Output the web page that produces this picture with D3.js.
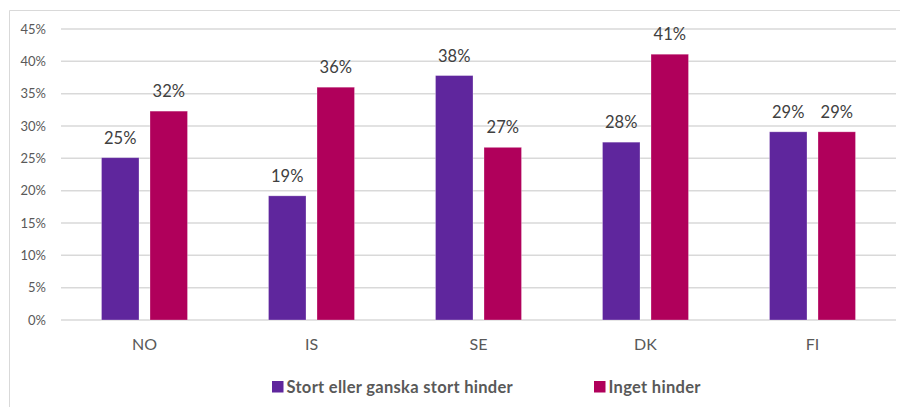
<!DOCTYPE html>
<html>
<head>
<meta charset="utf-8">
<script src="https://cdn.jsdelivr.net/npm/d3@7"></script>
<style>
  html, body { margin: 0; padding: 0; background: #fff; }
  svg { display: block; font-family: Lato, "Open Sans", sans-serif; }
</style>
</head>
<body>
<svg id="chart" width="900" height="407"></svg>
<script>
const categories = ["NO", "IS", "SE", "DK", "FI"];
const seriesNames = ["Stort eller ganska stort hinder", "Inget hinder"];
const storHinder = [25.1, 19.2, 37.8, 27.5, 29.1];
const ingetHinder = [32.3, 36.0, 26.7, 41.1, 29.1];
const yTicks = [0, 5, 10, 15, 20, 25, 30, 35, 40, 45];
const colors = ["#5F269D", "#B0005B"];

const svg = d3.select("#chart");

// outer border (chart area box)
svg.append("path")
  .attr("d", "M9.5,407 L9.5,10.5 L900,10.5")
  .attr("fill", "none")
  .attr("stroke", "#d9d9d9")
  .attr("stroke-width", 1);

const plotL = 61, plotR = 896, plotT = 29, plotB = 320;
const y = d3.scaleLinear().domain([0, 45]).range([plotB, plotT]);
const x0 = d3.scaleBand().domain(categories).range([plotL, plotR])
  .paddingInner(0.485).paddingOuter(0.2425);
const x1 = d3.scaleBand().domain(seriesNames).range([0, x0.bandwidth()])
  .paddingInner(0.227).paddingOuter(0);

// gridlines
svg.append("g").selectAll("line").data(yTicks).join("line")
  .attr("x1", plotL).attr("x2", plotR)
  .attr("y1", d => y(d)).attr("y2", d => y(d))
  .attr("stroke", "#d9d9d9").attr("stroke-width", 1.5);

// y axis labels
const yAxis = d3.axisLeft(y).tickValues(yTicks).tickFormat(d => d + "%").tickSize(0).tickPadding(0);
const yg = svg.append("g").attr("transform", `translate(46,0)`).call(yAxis);
yg.select(".domain").remove();
yg.selectAll("text").attr("fill", "#595959").style("font-size", "13px")
  .style("font-family", "Lato, sans-serif");

// x axis labels
const xAxis = d3.axisBottom(x0).tickSize(0).tickPadding(0);
const xg = svg.append("g").attr("transform", `translate(0,339)`).call(xAxis);
xg.select(".domain").remove();
xg.selectAll("text").attr("fill", "#595959").style("font-size", "16px")
  .style("font-family", "Lato, sans-serif");

// bars
const data = categories.map((c, i) => ({
  cat: c,
  vals: [
    { s: seriesNames[0], v: storHinder[i], c: colors[0] },
    { s: seriesNames[1], v: ingetHinder[i], c: colors[1] }
  ]
}));

const groups = svg.append("g").selectAll("g").data(data).join("g")
  .attr("transform", d => `translate(${x0(d.cat)},0)`);

groups.selectAll("rect").data(d => d.vals).join("rect")
  .attr("x", d => x1(d.s))
  .attr("width", x1.bandwidth())
  .attr("y", d => y(d.v))
  .attr("height", d => y(0) - y(d.v))
  .attr("fill", d => d.c)
  .attr("stroke", "rgba(255,255,255,0.35)")
  .attr("stroke-width", 0.8);

groups.selectAll("text").data(d => d.vals).join("text")
  .attr("x", d => x1(d.s) + x1.bandwidth() / 2)
  .attr("y", d => y(d.v) - 14)
  .attr("text-anchor", "middle")
  .attr("fill", "#404040")
  .style("font-size", "16.5px")
  .text(d => Math.round(d.v) + "%");

// legend
const legendItems = [
  { name: seriesNames[0], c: colors[0], x: 272 },
  { name: seriesNames[1], c: colors[1], x: 594 }
];
const lg = svg.append("g").selectAll("g").data(legendItems).join("g")
  .attr("transform", d => `translate(${d.x},381)`);
lg.append("rect").attr("width", 11.5).attr("height", 11.5).attr("fill", d => d.c);
lg.append("text").attr("x", 14.5).attr("y", 11.5)
  .attr("fill", "#595959")
  .style("font-size", "16.5px").style("font-weight", "bold")
  .style("letter-spacing", "0.3px")
  .text(d => d.name);
</script>
</body>
</html>
